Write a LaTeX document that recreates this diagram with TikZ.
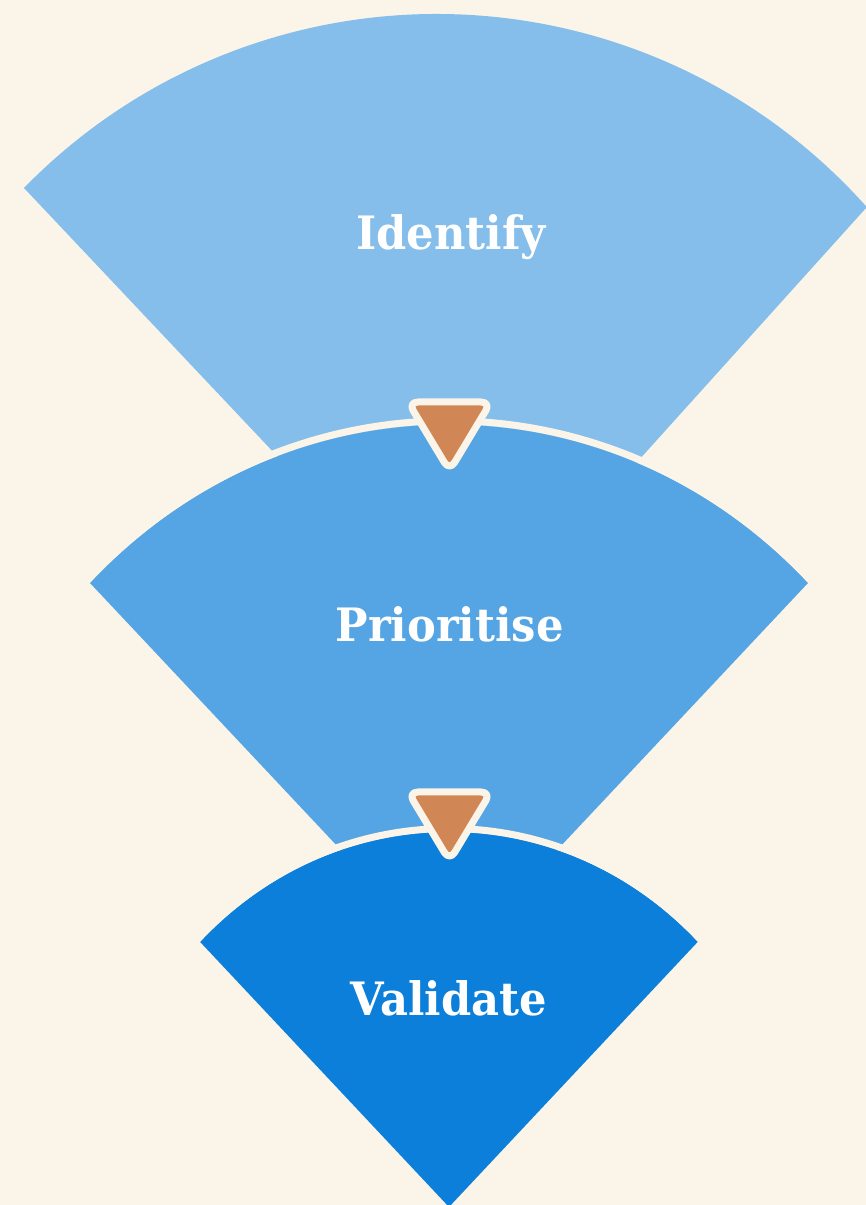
\documentclass[tikz,border=0pt]{standalone}
\usepackage{fontspec}
\newfontfamily\labelfont{DejaVu Serif}
\definecolor{bg}{HTML}{FAF4E9}
\definecolor{sone}{HTML}{85BEEA}
\definecolor{stwo}{HTML}{55A5E4}
\definecolor{sthree}{HTML}{0B7FD9}
\definecolor{arrowc}{HTML}{D08755}
\begin{document}
\begin{tikzpicture}[x=1pt,y=1pt,
  rim/.style={draw=bg, line width=7pt},
  marker/.style={fill=arrowc, draw=bg, line width=7pt, rounded corners=10pt, line join=round},
  lbl/.style={text=white, anchor=base, inner sep=0pt,
    font=\labelfont\bfseries\fontsize{46}{52}\selectfont}]
\fill[bg] (0,0) rectangle (866,1205);
\useasboundingbox (0,0) rectangle (866,1205);
\begin{scope}
\clip (0,0) rectangle (866,1205);
% sector 1
\fill[sone] (24,1017) arc[start angle=135.74, end angle=41.66, radius=576pt] -- (464,551) -- cycle;
% sector 2
\fill[stwo] (90,622) arc[start angle=135, end angle=45, x radius=507.7pt, y radius=540.7pt] -- (449,240) -- cycle;
\draw[rim] (449,240) ++(135:511.2pt and 544.2pt) arc[start angle=135, end angle=45, x radius=511.2pt, y radius=544.2pt];
% sector 3
\fill[sthree] (200,263.2) arc[start angle=135, end angle=45, x radius=352pt, y radius=375pt] -- (449,-2) -- cycle;
\draw[rim] (449,-2) ++(135:355.5pt and 378.5pt) arc[start angle=135, end angle=45, x radius=355.5pt, y radius=378.5pt];
\end{scope}
% markers
\draw[marker] (408,803) -- (491,803) -- (449.5,734) -- cycle;
\draw[marker] (408,413) -- (491,413) -- (449.5,344) -- cycle;
% labels
\node[lbl] (identify) at (451,955) {\scalebox{0.94}[1]{Identify}};
\node[lbl] (prioritise) at (449.5,563) {\scalebox{0.94}[1]{Prioritise}};
\node[lbl] (validate) at (449,189) {\scalebox{0.94}[1]{Validate}};
\end{tikzpicture}
\end{document}
